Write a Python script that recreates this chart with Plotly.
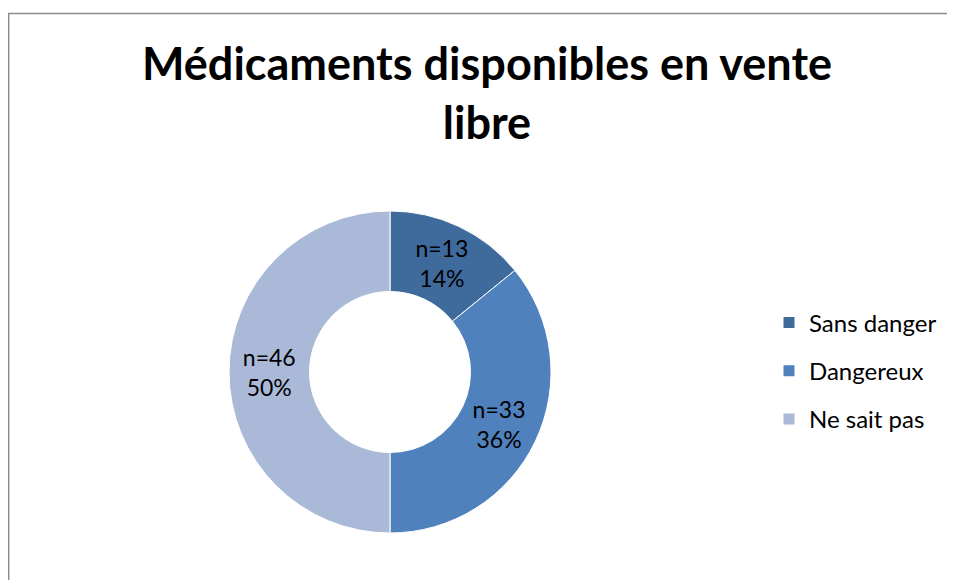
import plotly.graph_objects as go

categories = ["Sans danger", "Dangereux", "Ne sait pas"]
counts = [13, 33, 46]
colors = ["#3F6A9C", "#4F81BD", "#AAB9D7"]
title_text = "Médicaments disponibles en vente<br>libre"

# page body has an 8px margin; figure sized to fit the window
W, H = 947, 572
OFF = 8
FONT = "Lato"


def px_x(x):
    return (x - OFF) / W


def px_y(y):
    return 1 - (y - OFF) / H


fig = go.Figure()
fig.add_trace(go.Pie(
    labels=categories,
    values=counts,
    sort=False,
    direction="clockwise",
    rotation=0,
    hole=0.5,
    marker=dict(colors=colors, line=dict(color="white", width=1)),
    texttemplate="n=%{value}<br>%{percent:.0%}",
    textposition="inside",
    insidetextorientation="horizontal",
    textfont=dict(family=FONT, size=23, color="black"),
    domain=dict(x=[px_x(229), px_x(551)], y=[px_y(533), px_y(211)]),
    showlegend=False,
    hoverinfo="label+value+percent",
))

# legend entries
for cat, col in zip(categories, colors):
    fig.add_trace(go.Scatter(
        x=[None], y=[None], mode="markers", name=cat,
        marker=dict(symbol="square", size=11, color=col),
        legendgroup=cat, showlegend=True,
    ))

fig.update_layout(
    width=W, height=H,
    margin=dict(l=0, r=0, t=0, b=0),
    paper_bgcolor="white", plot_bgcolor="white",
    xaxis=dict(visible=False), yaxis=dict(visible=False),
    title=dict(
        text=title_text, x=px_x(487), xanchor="center",
        y=px_y(80), yanchor="middle", yref="container",
        font=dict(family=FONT, size=45, color="black", weight="bold"),
    ),
    legend=dict(
        x=px_x(769), xanchor="left", y=px_y(371), yanchor="middle",
        font=dict(family=FONT, size=24, color="black"),
        tracegroupgap=14, bgcolor="rgba(0,0,0,0)",
        itemwidth=30,
    ),
    shapes=[dict(
        type="rect", xref="paper", yref="paper",
        x0=0.7 / W, x1=1.02, y0=-0.02, y1=px_y(13.5),
        line=dict(color="#8C8C8C", width=1.5), fillcolor="rgba(0,0,0,0)",
    )],
)

fig.write_html("out.html")
